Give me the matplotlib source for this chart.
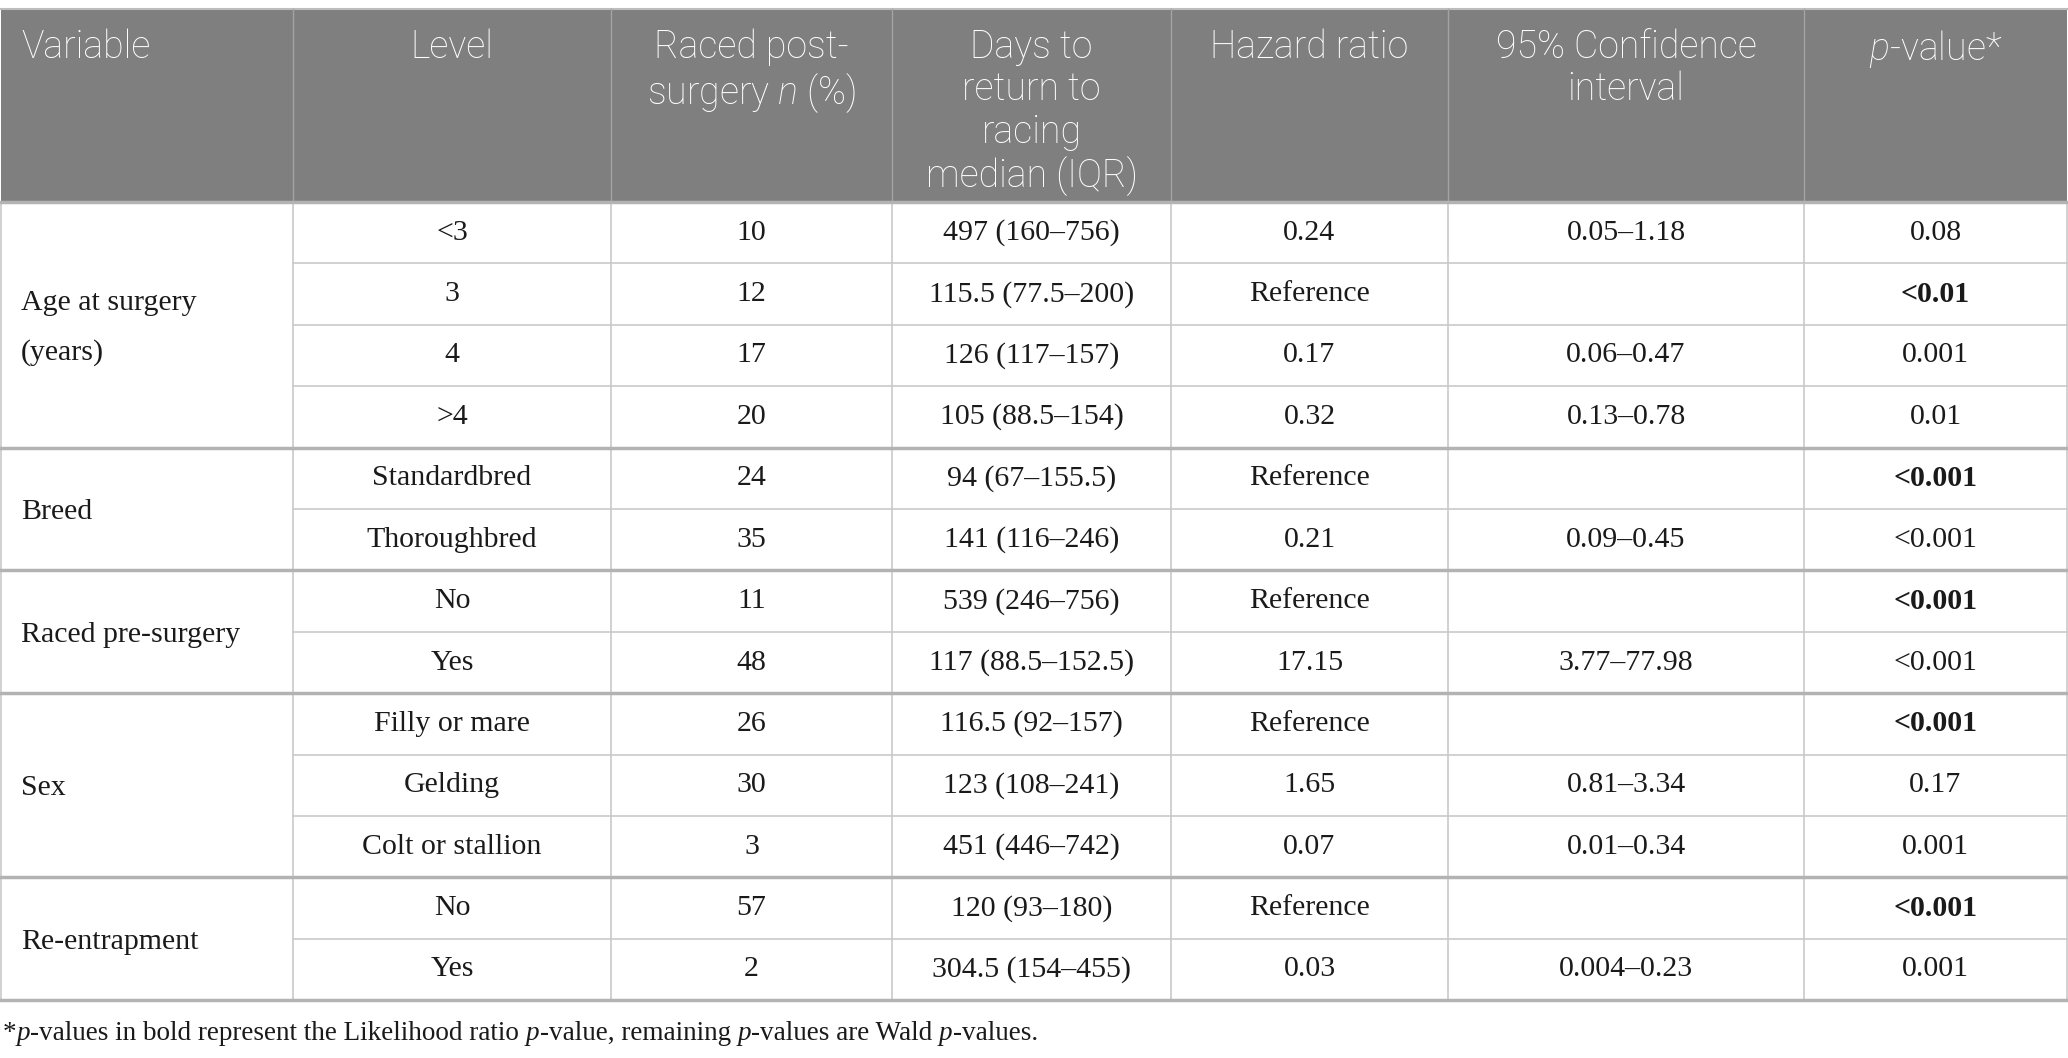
import numpy as np
import matplotlib.pyplot as plt

###########################################################################
# data
###########################################################################

headers = ["Variable", "Level", "Raced post-\nsurgery $n$ (%)",
           "Days to\nreturn to\nracing\nmedian (IQR)", "Hazard ratio",
           "95% Confidence\ninterval", "$p$-value*"]

variables = ["Age at surgery\n(years)", "Breed", "Raced pre-surgery", "Sex",
             "Re-entrapment"]
group_sizes = [4, 2, 2, 3, 2]

levels = ["<3", "3", "4", ">4", "Standardbred", "Thoroughbred", "No", "Yes",
          "Filly or mare", "Gelding", "Colt or stallion", "No", "Yes"]
raced_n = [10, 12, 17, 20, 24, 35, 11, 48, 26, 30, 3, 57, 2]
days = ["497 (160–756)", "115.5 (77.5–200)", "126 (117–157)", "105 (88.5–154)",
        "94 (67–155.5)", "141 (116–246)", "539 (246–756)", "117 (88.5–152.5)",
        "116.5 (92–157)", "123 (108–241)", "451 (446–742)", "120 (93–180)",
        "304.5 (154–455)"]
hazard = ["0.24", "Reference", "0.17", "0.32", "Reference", "0.21",
          "Reference", "17.15", "Reference", "1.65", "0.07", "Reference", "0.03"]
conf_int = ["0.05–1.18", "", "0.06–0.47", "0.13–0.78", "", "0.09–0.45", "",
            "3.77–77.98", "", "0.81–3.34", "0.01–0.34", "", "0.004–0.23"]
p_values = ["0.08", "<0.01", "0.001", "0.01", "<0.001", "<0.001", "<0.001",
            "<0.001", "<0.001", "0.17", "0.001", "<0.001", "0.001"]
p_bold = [False, True, False, False, True, False, True, False, True, False,
          False, True, False]

footnote = [("*", "normal"), ("p", "italic"),
            ("-values in bold represent the Likelihood ratio ", "normal"),
            ("p", "italic"), ("-value, remaining ", "normal"), ("p", "italic"),
            ("-values are Wald ", "normal"), ("p", "italic"), ("-values.", "normal")]

###########################################################################
# layout
###########################################################################

W, H = 2068, 1058
col_edges = [1, 293, 611, 892, 1171, 1448, 1804, 2067]
head_top, head_bot = 9, 202
row_h = 61.4
n_rows = len(levels)
table_bot = head_bot + row_h * n_rows

head_bg = "#7f7f7f"
thin_c = "#c9c9c9"
thick_c = "#b3b3b3"
body_font = "Liberation Serif"
head_font = "Roboto"
body_size = 21.5
head_size = 27

plt.rcParams["mathtext.fontset"] = "custom"
plt.rcParams["mathtext.it"] = "Roboto:italic:light"
plt.rcParams["mathtext.rm"] = "Roboto:light"

fig = plt.figure(figsize=(W / 100, H / 100), dpi=100)
ax = fig.add_axes([0, 0, 1, 1])
ax.set_xlim(0, W)
ax.set_ylim(H, 0)
ax.axis("off")

# header background
ax.add_patch(plt.Rectangle((col_edges[0], head_top), col_edges[-1] - col_edges[0],
                           head_bot - head_top, facecolor=head_bg, edgecolor="none"))
ax.plot([col_edges[0], col_edges[-1]], [head_top, head_top], color="#bdbdbd", lw=1.5)
for x in col_edges[1:-1]:
    ax.plot([x, x], [head_top, head_bot], color="#a3a3a3", lw=1)

# header texts, top aligned
for j, h in enumerate(headers):
    if j == 0:
        cx, ha = col_edges[0] + 20, "left"
    else:
        cx, ha = (col_edges[j] + col_edges[j + 1]) / 2, "center"
    ax.text(cx, 28, h, ha=ha, va="top", color="white", family=head_font,
            fontweight="light", fontsize=head_size, linespacing=1.17,
            multialignment="center")

# vertical grid lines in body
for x in col_edges:
    ax.plot([x, x], [head_bot, table_bot], color=thin_c, lw=1.2)

# body rows
group_starts = np.cumsum([0] + group_sizes[:-1])
for g, (var, start, size) in enumerate(zip(variables, group_starts, group_sizes)):
    y0 = head_bot + start * row_h
    y1 = y0 + size * row_h
    ax.plot([col_edges[0], col_edges[-1]], [y0, y0], color=thick_c, lw=2.5)
    for k in range(1, size):
        yk = y0 + k * row_h
        ax.plot([col_edges[1], col_edges[-1]], [yk, yk], color=thin_c, lw=1.2)
    ax.text(col_edges[0] + 20, (y0 + y1) / 2 + 3, var, ha="left", va="center",
            family=body_font, fontsize=body_size, color="#1a1a1a", linespacing=2.1)
ax.plot([col_edges[0], col_edges[-1]], [table_bot, table_bot], color=thick_c, lw=2.5)

columns = [levels, raced_n, days, hazard, conf_int, p_values]
for i in range(n_rows):
    cy = head_bot + row_h * (i + 0.5)
    for j, col in enumerate(columns, start=1):
        cx = (col_edges[j] + col_edges[j + 1]) / 2
        weight = "bold" if (j == 6 and p_bold[i]) else "normal"
        ax.text(cx, cy, str(col[i]), ha="center", va="center", family=body_font,
                fontsize=body_size, color="#1a1a1a", fontweight=weight)

# footnote made of italic / upright runs
renderer = fig.canvas.get_renderer()
x = 3
for txt, style in footnote:
    t = ax.text(x, 1033, txt, ha="left", va="center", family=body_font,
                fontsize=19.5, style=style, color="#1a1a1a")
    bb = t.get_window_extent(renderer)
    x += bb.width

fig.savefig("out.png", dpi=100)
